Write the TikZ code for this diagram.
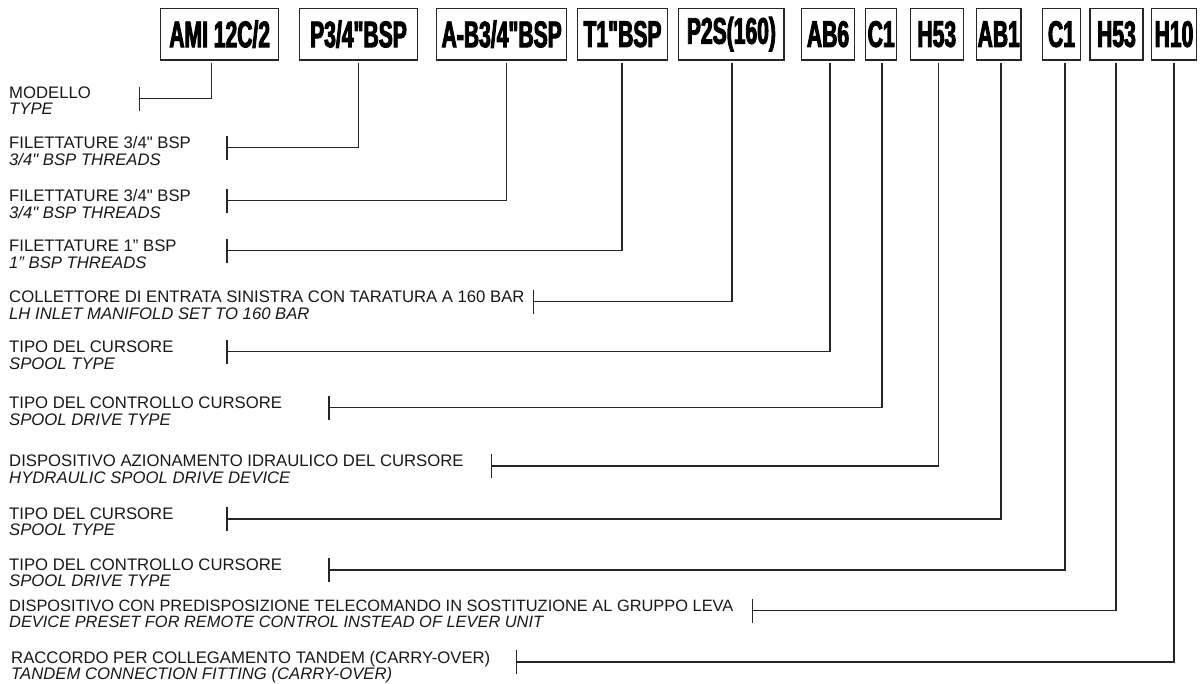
\documentclass[tikz,border=0pt]{standalone}
\usepackage{fontspec}
\setmainfont{Liberation Sans}[Ligatures=TeXOff]
\newfontfamily\boxfont[FakeStretch=0.57,FakeBold=2.5,Ligatures=TeXOff]{Liberation Sans Bold}
\usetikzlibrary{calc}
\begin{document}
\begin{tikzpicture}[x=1pt,y=-1pt,
  codebox/.style={draw=black!85, line width=1.3pt, inner sep=0pt, minimum height=51.7pt,
    font=\boxfont\fontsize{37}{37}\selectfont, text=black},
  lab/.style={anchor=base west, inner sep=0pt, font=\fontsize{16.7}{16.7}\selectfont, text=black!90},
  labit/.style={lab, font=\fontsize{16.7}{16.7}\selectfont\itshape},
  conn/.style={draw=black!85, line width=1.3pt},
  tickline/.style={draw=black!85, line width=1.3pt}
]
\useasboundingbox[fill=white] (0,0) rectangle (1200,684);

% code boxes
\node[codebox, minimum width=118pt]   (b1)  at (219.7,34.15) {AMI 12C/2};
\node[codebox, minimum width=118.4pt] (b2)  at (358.5,34.15) {P3/4"BSP};
\node[codebox, minimum width=130pt]   (b3)  at (501.7,34.15) {A-B3/4"BSP};
\node[codebox, minimum width=89.6pt]  (b4)  at (622.5,34.15) {T1"BSP};
\node[codebox, minimum width=105.3pt] (b5)  at (731.4,34.15) {P2S(160)};
\node[codebox, minimum width=52.6pt]  (b6)  at (828,34.15) {AB6};
\node[codebox, minimum width=31pt]    (b7)  at (881.2,34.15) {C1};
\node[codebox, minimum width=53pt]    (b8)  at (936.8,34.15) {H53};
\node[codebox, minimum width=44.7pt]  (b9)  at (998.7,34.15) {AB1};
\node[codebox, minimum width=38.4pt]  (b10) at (1061.5,34.15) {C1};
\node[codebox, minimum width=53pt]    (b11) at (1116.5,34.15) {H53};
\node[codebox, minimum width=45pt]    (b12) at (1174,34.15) {H10};

% labels
\node[lab]   (i1)  at (9,98.3)  {MODELLO};
\node[labit] (e1)  at (9,114.8) {TYPE};
\node[lab]   (i2)  at (9,148.7) {FILETTATURE 3/4" BSP};
\node[labit] (e2)  at (9,165.2) {3/4" BSP THREADS};
\node[lab]   (i3)  at (9,201.7) {FILETTATURE 3/4" BSP};
\node[labit] (e3)  at (9,218.2) {3/4" BSP THREADS};
\node[lab]   (i4)  at (9,251.7) {FILETTATURE 1” BSP};
\node[labit] (e4)  at (9,268.2) {1” BSP THREADS};
\node[lab]   (i5)  at (9,302.7) {COLLETTORE DI ENTRATA SINISTRA CON TARATURA A 160 BAR};
\node[labit] (e5)  at (9,319.2) {LH INLET MANIFOLD SET TO 160 BAR};
\node[lab]   (i6)  at (9,352.7) {TIPO DEL CURSORE};
\node[labit] (e6)  at (9,369.2) {SPOOL TYPE};
\node[lab]   (i7)  at (9,408.6) {TIPO DEL CONTROLLO CURSORE};
\node[labit] (e7)  at (9,425.1) {SPOOL DRIVE TYPE};
\node[lab]   (i8)  at (9,467)   {DISPOSITIVO AZIONAMENTO IDRAULICO DEL CURSORE};
\node[labit] (e8)  at (9,483.5) {HYDRAULIC SPOOL DRIVE DEVICE};
\node[lab]   (i9)  at (9,519)   {TIPO DEL CURSORE};
\node[labit] (e9)  at (9,535.5) {SPOOL TYPE};
\node[lab]   (i10) at (9,570)   {TIPO DEL CONTROLLO CURSORE};
\node[labit] (e10) at (9,586.5) {SPOOL DRIVE TYPE};
\node[lab, font=\fontsize{16.4}{16.4}\selectfont]   (i11) at (9,611.3) {DISPOSITIVO CON PREDISPOSIZIONE TELECOMANDO IN SOSTITUZIONE AL GRUPPO LEVA};
\node[labit, font=\fontsize{16.4}{16.4}\selectfont\itshape] (e11) at (9,627.8) {DEVICE PRESET FOR REMOTE CONTROL INSTEAD OF LEVER UNIT};
\node[lab]   (i12) at (11,663)  {RACCORDO PER COLLEGAMENTO TANDEM (CARRY-OVER)};
\node[labit] (e12) at (11,679.5){TANDEM CONNECTION FITTING (CARRY-OVER)};

% tick coordinates
\coordinate (t1)  at (139.3,98.3);
\coordinate (t2)  at (227,147.7);
\coordinate (t3)  at (227,200.7);
\coordinate (t4)  at (227,250.7);
\coordinate (t5)  at (533.3,301.7);
\coordinate (t6)  at (227,351.7);
\coordinate (t7)  at (329,407.6);
\coordinate (t8)  at (491.5,466);
\coordinate (t9)  at (227,519);
\coordinate (t10) at (329,570);
\coordinate (t11) at (752.7,610.3);
\coordinate (t12) at (516.3,662);

\foreach \t in {t1,t2,t3,t4,t5,t6,t7,t8,t9,t10,t11,t12}
  \draw[tickline] ($(\t)+(0,-11.7)$) -- ($(\t)+(0,12.3)$);

% connectors
\draw[conn] ($(b1.south)+(-8,2)$) |- (t1);
\draw[conn] ($(b2.south)+(0.2,2)$) |- (t2);
\draw[conn] ($(b3.south)+(5,2)$) |- (t3);
\draw[conn] ($(b4.south)+(-0.5,2)$) |- (t4);
\draw[conn] ($(b5.south)+(0.6,2)$) |- (t5);
\draw[conn] ($(b6.south)+(2,2)$) |- (t6);
\draw[conn] ($(b7.south)+(0.8,2)$) |- (t7);
\draw[conn] ($(b8.south)+(1.5,2)$) |- (t8);
\draw[conn] ($(b9.south)+(2.3,2)$) |- (t9);
\draw[conn] ($(b10.south)+(3.5,2)$) |- (t10);
\draw[conn] ($(b11.south)+(-0.5,2)$) |- (t11);
\draw[conn] ($(b12.south)+(0,2)$) |- (t12);
\end{tikzpicture}
\end{document}
